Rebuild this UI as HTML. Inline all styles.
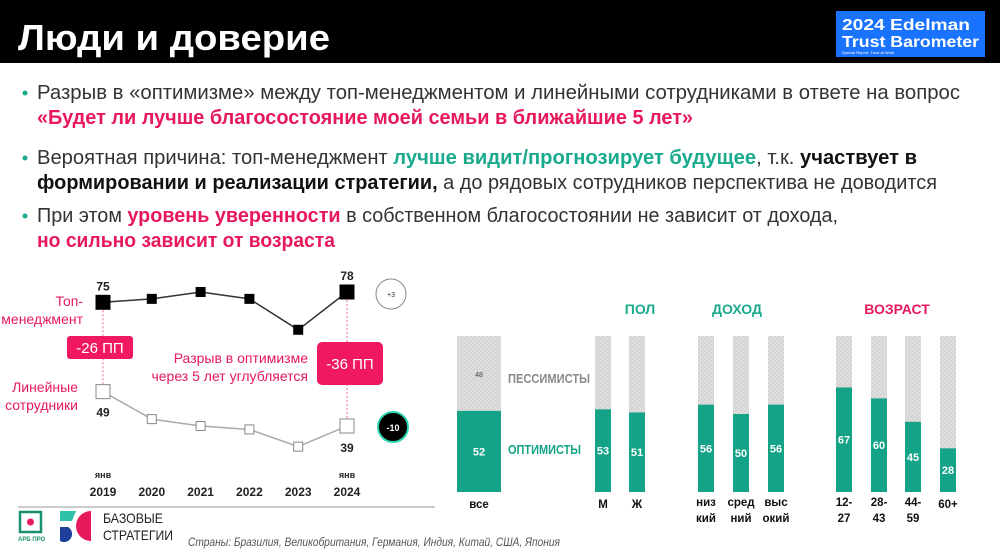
<!DOCTYPE html>
<html><head><meta charset="utf-8"><style>
html,body{margin:0;padding:0;background:#fff;}
svg{display:block;font-family:"Liberation Sans","Noto Sans CJK SC",sans-serif;}
</style></head><body>
<svg width="1000" height="557" viewBox="0 0 1000 557" xmlns="http://www.w3.org/2000/svg">
<defs>
<pattern id="hatch" width="4" height="4" patternUnits="userSpaceOnUse"><rect width="4" height="4" fill="#dedede"/><path d="M0 4L4 0" stroke="#cfcfcf" stroke-width="1"/></pattern>
</defs>
<rect x="0" y="0" width="1000" height="63" fill="#000"/>
<text x="18" y="50" fill="#fff" font-size="36" font-weight="bold" textLength="312" lengthAdjust="spacingAndGlyphs">Люди и доверие</text>
<g>
<rect x="836" y="11" width="149" height="46" fill="#1a73ff"/>
<text x="842" y="30" fill="#fff" font-size="16" font-weight="bold" textLength="128" lengthAdjust="spacingAndGlyphs">2024 Edelman</text>
<text x="842" y="47" fill="#fff" font-size="16" font-weight="bold" textLength="137" lengthAdjust="spacingAndGlyphs">Trust Barometer</text>
<text x="842" y="54" fill="#fff" font-size="4">Special Report: Trust at Work</text>
</g>
<g font-size="20" fill="#333">
<circle cx="25" cy="93" r="2.5" fill="#1aaa8e"/>
<circle cx="25" cy="158" r="2.5" fill="#1aaa8e"/>
<circle cx="25" cy="216" r="2.5" fill="#1aaa8e"/>
<text x="37" y="99" textLength="923" lengthAdjust="spacingAndGlyphs">Разрыв в «оптимизме» между топ-менеджментом и линейными сотрудниками в ответе на вопрос</text>
<text x="37" y="124" fill="#e8195a" font-weight="bold" textLength="656" lengthAdjust="spacingAndGlyphs">«Будет ли лучше благосостояние моей семьи в ближайшие 5 лет»</text>
<text x="37" y="164" textLength="880" lengthAdjust="spacingAndGlyphs">Вероятная причина:  топ-менеджмент <tspan fill="#1aaa8e" font-weight="bold">лучше видит/прогнозирует  будущее</tspan>, т.к. <tspan font-weight="bold" fill="#111">участвует в</tspan></text>
<text x="37" y="189" textLength="900" lengthAdjust="spacingAndGlyphs"><tspan font-weight="bold" fill="#111">формировании и реализации стратегии,</tspan> а до рядовых сотрудников перспектива не доводится</text>
<text x="37" y="222" textLength="801" lengthAdjust="spacingAndGlyphs">При этом <tspan fill="#e8195a" font-weight="bold">уровень уверенности</tspan> в собственном благосостоянии не зависит от дохода,</text>
<text x="37" y="247" fill="#e8195a" font-weight="bold" textLength="298" lengthAdjust="spacingAndGlyphs">но сильно зависит от возраста</text>
</g>
<g id="line-chart"></g>
<g id="bar-chart"></g>
<line x1="18" y1="507" x2="435" y2="507" stroke="#999" stroke-width="1"/>
<g>
<rect x="20" y="512" width="21" height="20" fill="none" stroke="#1a9070" stroke-width="2.5"/>
<circle cx="30.5" cy="522" r="3.5" fill="#e8195a"/>
<text x="18" y="541" font-size="6" font-weight="bold" fill="#1a9070">АРБ ПРО</text>
</g>
<g>
<path d="M60 511 L76 511 L72 521 L60 521Z" fill="#2fc2a8"/>
<path d="M60 527 L68 527 A8 8 0 0 1 60 541Z" fill="#1e3f9a"/>
<path d="M91 511 A15 15 0 0 0 91 541Z" fill="#e8195a"/>
<text x="103" y="523" font-size="14" fill="#222" textLength="60" lengthAdjust="spacingAndGlyphs">БАЗОВЫЕ</text>
<text x="103" y="540" font-size="14" fill="#222" textLength="70" lengthAdjust="spacingAndGlyphs">СТРАТЕГИИ</text>
</g>
<text x="188" y="546" font-size="11.5" font-style="italic" fill="#555" textLength="372" lengthAdjust="spacingAndGlyphs">Страны: Бразилия, Великобритания, Германия, Индия, Китай, США, Япония</text>
</svg>
<script>
const years = ["2019","2020","2021","2022","2023","2024"];
const topMgmt = [75, 76, 78, 76, 67, 78];
const lineStaff = [49, 41, 39, 38, 33, 39];

const barCats = ["все","М","Ж","низкий","средний","высокий","12-27","28-43","44-59","60+"];
const barLabels = [["все"],["М"],["Ж"],["низ","кий"],["сред","ний"],["выс","окий"],["12-","27"],["28-","43"],["44-","59"],["60+"]];
const optimists = [52, 53, 51, 56, 50, 56, 67, 60, 45, 28];

const NS = "http://www.w3.org/2000/svg";
function mk(tag, attrs, parent, text){
  const e = document.createElementNS(NS, tag);
  for (const k in attrs) e.setAttribute(k, attrs[k]);
  if (text !== undefined) e.textContent = text;
  parent.appendChild(e);
  return e;
}
// ---- line chart
const lc = document.getElementById("line-chart");
const xL = i => 103 + i * 48.8;
const yL = v => 292 + (78 - v) * 3.436;
function drawSeries(vals, stroke, fill, name){
  const pts = vals.map((v,i)=>xL(i)+","+yL(v)).join(" ");
  const pl = mk("polyline",{points:pts,fill:"none",stroke:stroke,"stroke-width":1.5},lc);
  
  
  vals.forEach((v,i)=>{
    const big = (i===0 || i===vals.length-1);
    const s = big ? 14 : 9;
    const r = mk("rect",{x:xL(i)-s/2,y:yL(v)-s/2,width:s,height:s,fill:fill,stroke:fill==="#fff"?"#888":"#000","stroke-width":1},lc);
    
    
  });
}
[0, years.length-1].forEach(i=>{
  const dl = mk("line",{x1:xL(i),y1:yL(topMgmt[i]),x2:xL(i),y2:yL(lineStaff[i]),stroke:"#f06a8f","stroke-width":1,"stroke-dasharray":"2,2"},lc);
  
  
});
drawSeries(topMgmt, "#333", "#000", "top-management");
drawSeries(lineStaff, "#aaa", "#fff", "line-staff");
const last = years.length-1;
[[0, topMgmt[0], yL(topMgmt[0])-12],[last, topMgmt[last], yL(topMgmt[last])-12],
 [0, lineStaff[0], yL(lineStaff[0])+25],[last, lineStaff[last], yL(lineStaff[last])+26]].forEach(a=>{
  const t = mk("text",{x:xL(a[0]),y:a[2],"font-size":12,"font-weight":"bold","text-anchor":"middle",fill:"#222"},lc,String(a[1]));
  
  
});
years.forEach((y,i)=>{
  if (i===0 || i===last){
    const j = mk("text",{x:xL(i),y:478,"font-size":9,"font-weight":"bold","text-anchor":"middle",fill:"#222"},lc,"янв");
    
    
  }
  const t = mk("text",{x:xL(i),y:496,"font-size":12,"font-weight":"bold","text-anchor":"middle",fill:"#222"},lc,y);
  
  
});
function txt(attrs, s, name){ const t = mk("text", attrs, lc, s);   return t; }
txt({x:83,y:306,"font-size":14,fill:"#e8195a","text-anchor":"end"},"Топ-","top-management-label");
txt({x:83,y:324,"font-size":14,fill:"#e8195a","text-anchor":"end"},"менеджмент","top-management-label-2");
txt({x:78,y:392,"font-size":14,fill:"#e8195a","text-anchor":"end"},"Линейные","line-staff-label");
txt({x:78,y:410,"font-size":14,fill:"#e8195a","text-anchor":"end"},"сотрудники","line-staff-label-2");
let r1 = mk("rect",{x:67,y:336,width:66,height:23,rx:3,fill:"#f0195f"},lc);
 
txt({x:100,y:353,"font-size":15,fill:"#fff","text-anchor":"middle"},"-26 ПП","gap-2019-text");
let r2 = mk("rect",{x:317,y:342,width:66,height:43,rx:5,fill:"#f0195f"},lc);
 
txt({x:350,y:369,"font-size":15,fill:"#fff","text-anchor":"middle"},"-36 ПП","gap-2024-text");
txt({x:308,y:363,"font-size":14,fill:"#e8195a","text-anchor":"end"},"Разрыв в оптимизме","gap-note");
txt({x:308,y:381,"font-size":14,fill:"#e8195a","text-anchor":"end"},"через 5 лет углубляется","gap-note-2");
let c1 = mk("circle",{cx:391,cy:294,r:15,fill:"#fff",stroke:"#888","stroke-width":1},lc);
 
txt({x:391,y:297,"font-size":7,fill:"#333","text-anchor":"middle"},"+3","change-top-text");
let c2 = mk("circle",{cx:393,cy:427,r:15,fill:"#000",stroke:"#2fd3b0","stroke-width":2},lc);
 
txt({x:393,y:431,"font-size":9,"font-weight":"bold",fill:"#fff","text-anchor":"middle"},"-10","change-staff-text");

// ---- bar chart
const bc = document.getElementById("bar-chart");
const barX = [457, 595, 629, 698, 733, 768, 836, 871, 905, 940];
const barW = [44, 16, 16, 16, 16, 16, 16, 16, 16, 16];
const baseY = 492, fullH = 156;
const yB = v => baseY - v / 100 * fullH;
optimists.forEach((v,i)=>{
  const g = mk("rect",{x:barX[i],y:yB(100),width:barW[i],height:fullH,fill:"url(#hatch)"},bc);
  
  
  const b = mk("rect",{x:barX[i],y:yB(v),width:barW[i],height:baseY-yB(v),fill:"#14a386"},bc);
  
  
  const t = mk("text",{x:barX[i]+barW[i]/2,y:(yB(v)+baseY)/2+4,"font-size":11,"font-weight":"bold",fill:"#ffffff","text-anchor":"middle"},bc,String(v));
  
  
  barLabels[i].forEach((ln,k)=>{
    const l = mk("text",{x:barX[i]+barW[i]/2,y:(barLabels[i].length>1?506:508)+k*16,"font-size":11.5,"font-weight":"bold",fill:"#111","text-anchor":"middle"},bc,ln);
    
    
  });
});
const pv = mk("text",{x:479,y:377,"font-size":7,fill:"#444","text-anchor":"middle"},bc,String(100-optimists[0]));


function bt(attrs,s,name){ const t = mk("text",attrs,bc,s);   }
bt({x:508,y:383,"font-size":13,"font-weight":"bold",fill:"#8a8a8a",textLength:82,lengthAdjust:"spacingAndGlyphs"},"ПЕССИМИСТЫ","legend-pessimists");
bt({x:508,y:454,"font-size":13,"font-weight":"bold",fill:"#14a386",textLength:73,lengthAdjust:"spacingAndGlyphs"},"ОПТИМИСТЫ","legend-optimists");
bt({x:640,y:314,"font-size":14,"font-weight":"bold",fill:"#1aaa8e","text-anchor":"middle"},"ПОЛ","group-gender");
bt({x:737,y:314,"font-size":14,"font-weight":"bold",fill:"#1aaa8e","text-anchor":"middle"},"ДОХОД","group-income");
bt({x:897,y:314,"font-size":14,"font-weight":"bold",fill:"#e8195a","text-anchor":"middle"},"ВОЗРАСТ","group-age");
</script>
</body></html>
